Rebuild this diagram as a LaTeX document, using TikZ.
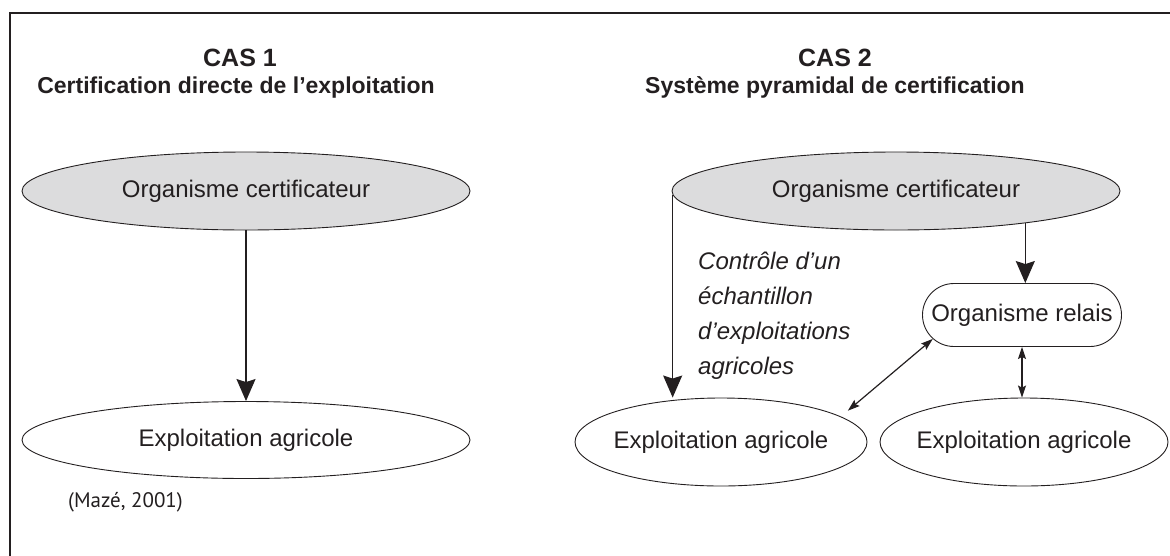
\documentclass[tikz,border=0pt]{standalone}
\usepackage{fontspec}
\setmainfont{Liberation Sans}
\newfontfamily\citefont{PT Sans}
\usetikzlibrary{shapes.geometric,shapes.misc,arrows.meta}
\definecolor{ink}{HTML}{231F20}
\definecolor{shade}{HTML}{DCDCDD}
\newcommand{\zw}[1]{\makebox[0pt]{#1}}
\begin{document}
\begin{tikzpicture}[x=1pt,y=-1pt,
  every node/.style={text=ink},
  ell/.style={draw=ink,line width=0.9pt,ellipse,inner sep=0pt,
    font=\fontsize{24}{28}\selectfont},
  relaisbox/.style={draw=ink,line width=0.9pt,rounded rectangle,inner sep=0pt,
    minimum width=199pt,minimum height=63pt,font=\fontsize{24}{28}\selectfont},
  bigarrow/.style={draw=ink,line width=1.4pt,-{Stealth[width=19pt,length=22pt,inset=3pt]}},
  dblarrow/.style={draw=ink,line width=1.2pt,{Stealth[width=8pt,length=12pt,inset=2pt]}-{Stealth[width=8pt,length=12pt,inset=2pt]}},
  titlefont/.style={font=\fontsize{25}{28}\selectfont\bfseries},
  subfont/.style={font=\fontsize{23}{28}\selectfont\bfseries}]
\useasboundingbox (0,0) rectangle (1170,555);
\clip (0,0) rectangle (1170,555);
% frame
\draw[ink,line width=2.5pt] (1180,13) -- (10,13) -- (10,565);
% titles
\node[titlefont,anchor=base] (t1) at (240,66) {CAS 1};
\node[subfont,anchor=base] (s1) at (236,93) {Certification directe de l’exploitation};
\node[titlefont,anchor=base] (t2) at (835,66) {CAS 2};
\node[subfont,anchor=base] (s2) at (835,93) {Système pyramidal de certification};
% case 1
\node[ell,fill=shade,minimum width=448pt,minimum height=78pt] (o1) at (246,191) {\zw{Organisme certificateur}};
\node[ell,minimum width=448pt,minimum height=77pt] (e1) at (246,440) {\zw{Exploitation agricole}};
\draw[bigarrow] (o1) -- (e1);
% case 2
\node[ell,fill=shade,minimum width=448pt,minimum height=78pt] (o2) at (896,191) {\zw{Organisme certificateur}};
\node[relaisbox] (r) at (1022,315) {Organisme relais};
\node[ell,minimum width=292pt,minimum height=88pt] (e3) at (721,442) {\zw{Exploitation agricole}};
\node[ell,minimum width=288pt,minimum height=88pt] (e4) at (1024,442) {\zw{Exploitation agricole}};
\draw[bigarrow] (o2.181) -- (o2.181 |- e3.north);
\draw[bigarrow] (o2.-14.3) -- (o2.-14.3 |- r.north);
\draw[dblarrow] (r.south) -- (r.south |- e4.north);
\draw[dblarrow,shorten <=9pt] (e3.12) -- (r.195);
\node[anchor=north west,align=left,inner sep=0pt,
  font=\fontsize{24}{35}\selectfont\itshape] (lbl) at (698,252)
  {Contrôle d’un\\échantillon\\d’exploitations\\agricoles};
% source
\node[anchor=base west,inner sep=0pt,font=\citefont\fontsize{21}{24}\selectfont] (src) at (68,507) {(Mazé, 2001)};
\end{tikzpicture}
\end{document}
